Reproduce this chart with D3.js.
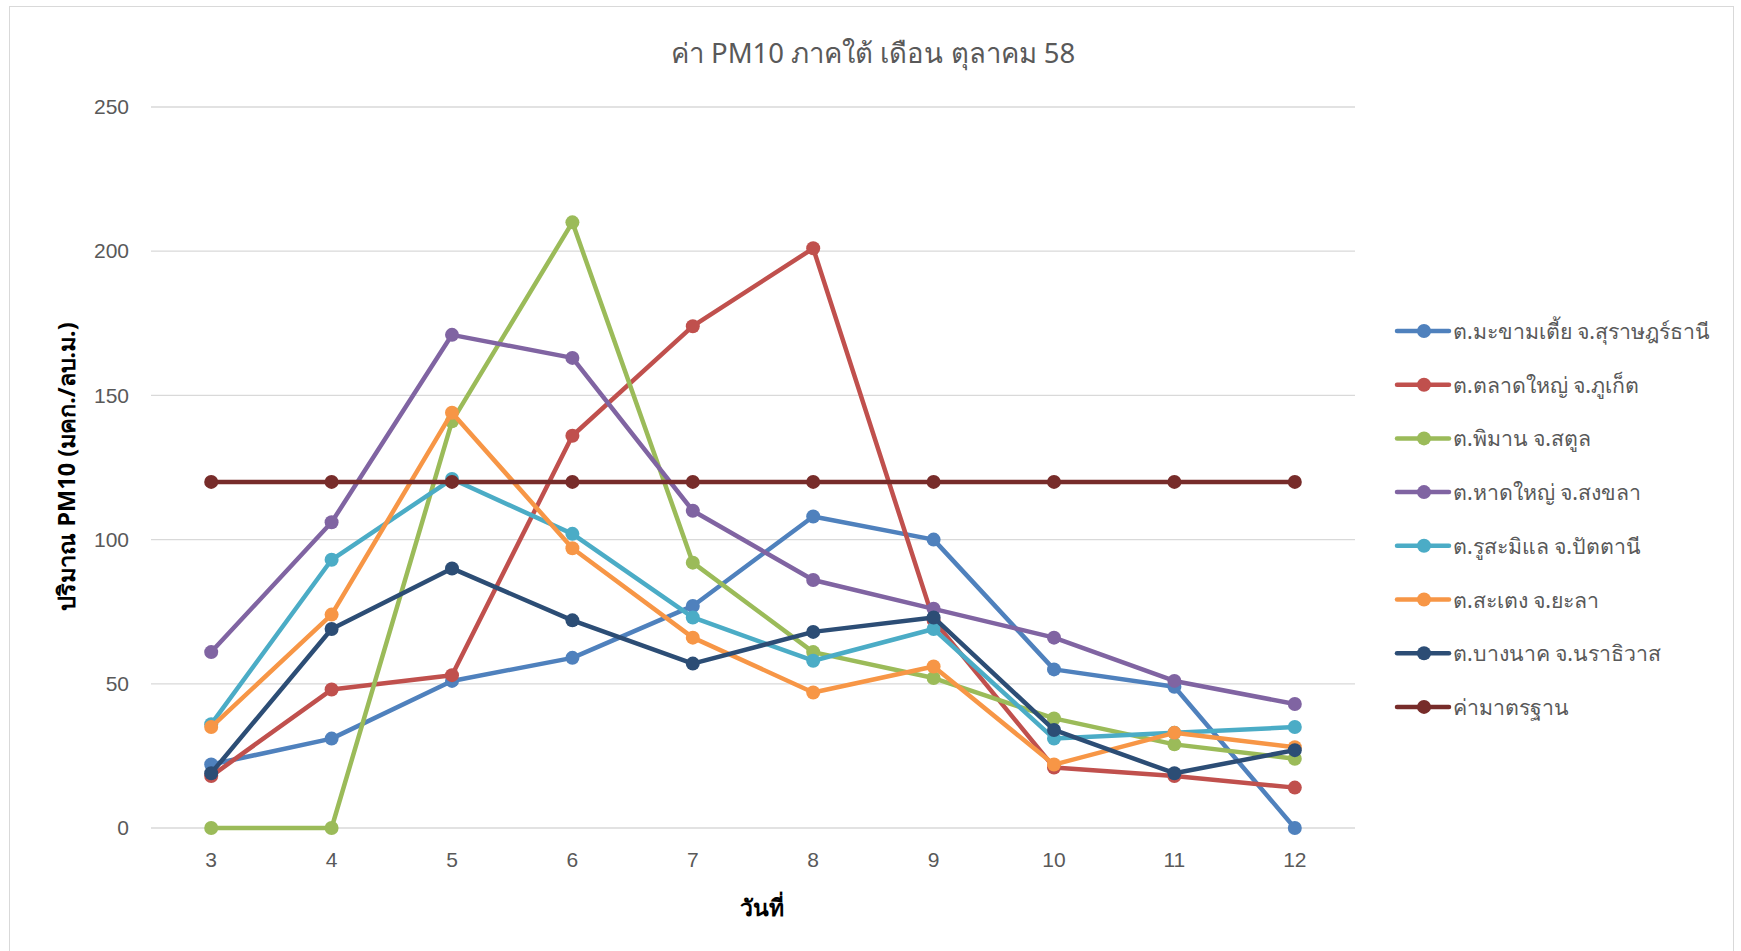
<!DOCTYPE html>
<html>
<head>
<meta charset="utf-8">
<script src="https://cdn.jsdelivr.net/npm/d3@7"></script>
<style>
  body { margin: 0; background: #fff; }
  svg { font-family: "Noto Sans", "DejaVu Sans", sans-serif; }
</style>
</head>
<body>
<svg id="chart" width="1741" height="951"></svg>
<script>
// days of October 2015 (x categories)
const days = [3, 4, 5, 6, 7, 8, 9, 10, 11, 12];
const yTicks = [0, 50, 100, 150, 200, 250];

// station names (legend order)
const seriesNames = [
  "ต.มะขามเตี้ย จ.สุราษฎร์ธานี",
  "ต.ตลาดใหญ่ จ.ภูเก็ต",
  "ต.พิมาน จ.สตูล",
  "ต.หาดใหญ่ จ.สงขลา",
  "ต.รูสะมิแล จ.ปัตตานี",
  "ต.สะเตง จ.ยะลา",
  "ต.บางนาค จ.นราธิวาส",
  "ค่ามาตรฐาน"
];
const seriesColors = ["#4F81BD", "#C0504D", "#9BBB59", "#8064A2", "#4BACC6", "#F79646", "#2C4D75", "#772C2A"];

// PM10 values
const makhamtia = [22, 31, 51, 59, 77, 108, 100, 55, 49, 0];
const taladyai  = [18, 48, 53, 136, 174, 201, 72, 21, 18, 14];
const piman     = [0, 0, 141, 210, 92, 61, 52, 38, 29, 24];
const hatyai    = [61, 106, 171, 163, 110, 86, 76, 66, 51, 43];
const rusamilae = [36, 93, 121, 102, 73, 58, 69, 31, 33, 35];
const sateng    = [35, 74, 144, 97, 66, 47, 56, 22, 33, 28];
const bangnak   = [19, 69, 90, 72, 57, 68, 73, 34, 19, 27];
const standard  = [120, 120, 120, 120, 120, 120, 120, 120, 120, 120];

const allSeries = [makhamtia, taladyai, piman, hatyai, rusamilae, sateng, bangnak, standard];

const svg = d3.select("#chart");

// chart frame
svg.append("rect")
  .attr("x", 9.5).attr("y", 6.5)
  .attr("width", 1724).attr("height", 960)
  .attr("fill", "#fff").attr("stroke", "#d9d9d9").attr("stroke-width", 1);

const plot = { left: 151, right: 1355, top: 107, bottom: 828 };

const x = d3.scaleBand().domain(days).range([plot.left, plot.right]);
const y = d3.scaleLinear().domain([0, 250]).range([plot.bottom, plot.top]);
const cx = d => x(d) + x.bandwidth() / 2;

// gridlines
svg.append("g")
  .selectAll("line")
  .data(yTicks)
  .join("line")
  .attr("x1", plot.left).attr("x2", plot.right)
  .attr("y1", d => y(d)).attr("y2", d => y(d))
  .attr("stroke", "#d9d9d9").attr("stroke-width", 1.3);

// y axis labels
const yAxis = svg.append("g")
  .attr("transform", `translate(${plot.left - 6},0)`)
  .call(d3.axisLeft(y).tickValues(yTicks).tickSize(0).tickPadding(16));
yAxis.select(".domain").remove();
yAxis.selectAll("text")
  .attr("fill", "#595959").style("font-size", "21px");

// x axis labels
const xAxis = svg.append("g")
  .attr("transform", `translate(0,${plot.bottom})`)
  .call(d3.axisBottom(x).tickSize(0).tickPadding(24));
xAxis.select(".domain").remove();
xAxis.selectAll("text")
  .attr("fill", "#595959").style("font-size", "21px");

// title
svg.append("text")
  .attr("x", 873).attr("y", 63)
  .attr("text-anchor", "middle")
  .attr("fill", "#595959")
  .style("font-size", "27.5px")
  .text("ค่า PM10 ภาคใต้ เดือน ตุลาคม 58");

// axis titles
svg.append("text")
  .attr("transform", `translate(75,${(plot.top + plot.bottom) / 2 - 1}) rotate(-90)`)
  .attr("text-anchor", "middle")
  .attr("fill", "#000")
  .style("font-size", "23.5px").style("font-weight", "bold")
  .text("ปริมาณ PM10 (มคก./ลบ.ม.)");

svg.append("text")
  .attr("x", 762).attr("y", 916)
  .attr("text-anchor", "middle")
  .attr("fill", "#000")
  .style("font-size", "23px").style("font-weight", "bold")
  .text("วันที่");

// lines + markers, drawn in series order
const line = d3.line().x((d, i) => cx(days[i])).y(d => y(d));

allSeries.forEach((vals, si) => {
  const g = svg.append("g");
  g.append("path")
    .datum(vals)
    .attr("d", line)
    .attr("fill", "none")
    .attr("stroke", seriesColors[si])
    .attr("stroke-width", 4.5)
    .attr("stroke-linejoin", "round")
    .attr("stroke-linecap", "round");
  g.selectAll("circle")
    .data(vals)
    .join("circle")
    .attr("cx", (d, i) => cx(days[i]))
    .attr("cy", d => y(d))
    .attr("r", 7)
    .attr("fill", seriesColors[si]);
});

// legend
const legend = svg.append("g").attr("transform", "translate(1397,331)");
seriesNames.forEach((name, i) => {
  const row = legend.append("g").attr("transform", `translate(0,${i * 53.7})`);
  row.append("line")
    .attr("x1", 0).attr("x2", 52).attr("y1", 0).attr("y2", 0)
    .attr("stroke", seriesColors[i]).attr("stroke-width", 4.5)
    .attr("stroke-linecap", "round");
  row.append("circle").attr("cx", 27).attr("cy", 0).attr("r", 7).attr("fill", seriesColors[i]);
  row.append("text")
    .attr("x", 56).attr("y", 8)
    .attr("fill", "#595959")
    .style("font-size", "21.3px")
    .text(name);
});
</script>
</body>
</html>
